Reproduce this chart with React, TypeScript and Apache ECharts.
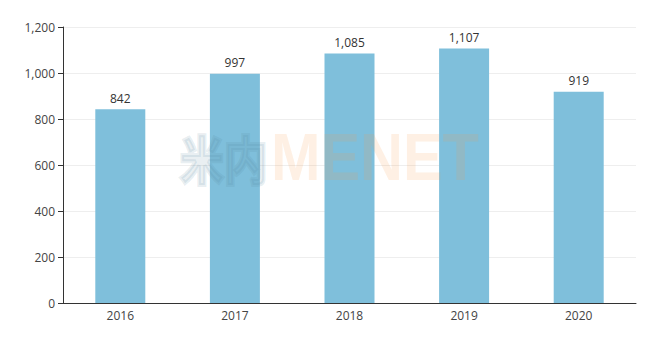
import React, { useEffect, useRef } from "react";
import * as echarts from "echarts";

const years = ["2016", "2017", "2018", "2019", "2020"];
const values = [842, 997, 1085, 1107, 919];
const yMin = 0;
const yMax = 1200;
const yInterval = 200;

export default function App() {
  const ref = useRef<HTMLDivElement>(null);
  useEffect(() => {
    if (!ref.current) return;
    const chart = echarts.init(ref.current, undefined, { renderer: "svg" });
    chart.setOption({
      animation: false,
      grid: { left: 63, right: 18, top: 27, bottom: 52 },
      xAxis: {
        type: "category",
        data: years,
        axisLine: { lineStyle: { color: "#333" } },
        axisTick: { lineStyle: { color: "#333" } },
        axisLabel: { color: "#444", fontSize: 12, margin: 6, fontFamily: "Open Sans, sans-serif" },
      },
      yAxis: {
        type: "value",
        min: yMin,
        max: yMax,
        interval: yInterval,
        axisLine: { show: true, lineStyle: { color: "#333" } },
        axisTick: { show: true, lineStyle: { color: "#333" } },
        axisLabel: {
          color: "#444",
          fontSize: 12,
          fontFamily: "Open Sans, sans-serif",
          formatter: (v: number) => v.toLocaleString("en-US"),
        },
        splitLine: { lineStyle: { color: "#eee" } },
      },
      series: [
        {
          type: "bar",
          data: values,
          barWidth: 50,
          itemStyle: { color: "#7fbfdb" },
          label: {
            show: true,
            position: "top",
            color: "#333",
            fontSize: 12,
            fontFamily: "Open Sans, sans-serif",
            formatter: (p: any) => Number(p.value).toLocaleString("en-US"),
          },
        },
      ],
      graphic: [
        {
          type: "text",
          x: 180,
          y: 157,
          scaleX: 0.84,
          z: 100,
          silent: true,
          style: {
            text: "米内",
            font: "bold 52px 'Noto Sans CJK SC', sans-serif",
            fill: "#50809a",
            stroke: "#50809a",
            lineWidth: 4,
            opacity: 0.15,
            verticalAlign: "middle",
          },
        },
        {
          type: "text",
          x: 271,
          y: 157,
          scaleX: 0.9,
          z: 100,
          silent: true,
          style: {
            text: "MENET",
            font: "bold 66px 'Liberation Sans', Arial, sans-serif",
            fill: "#f59a48",
            opacity: 0.15,
            verticalAlign: "middle",
          },
        },
      ],
    });
    return () => chart.dispose();
  }, []);
  return (
    <div
      ref={ref}
      style={{ position: "fixed", left: 0, top: 0, width: 654, height: 355, background: "#fff" }}
    />
  );
}
